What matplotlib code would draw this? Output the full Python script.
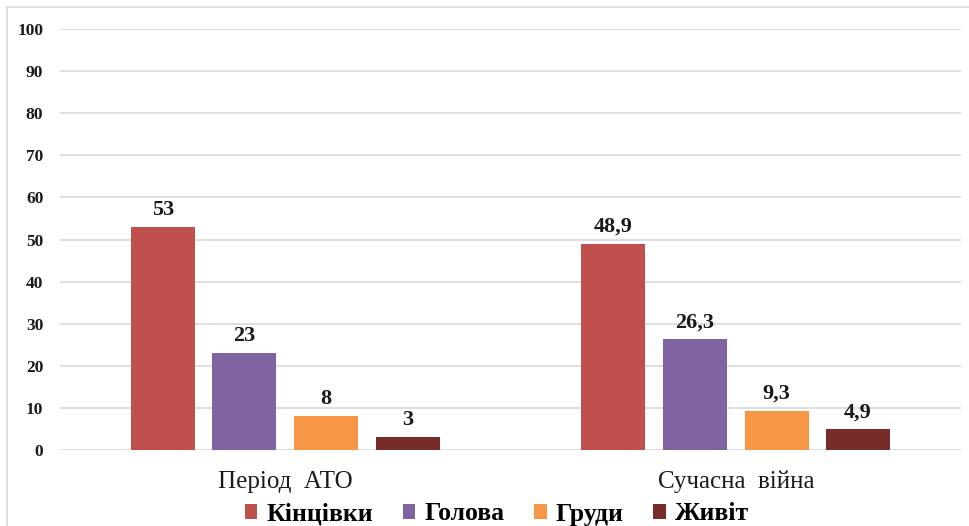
import matplotlib
matplotlib.use('Agg')
import matplotlib.pyplot as plt
import numpy as np
from matplotlib.patches import Rectangle

categories = ['Період  АТО', 'Сучасна  війна']
series = ['Кінцівки', 'Голова', 'Груди', 'Живіт']
values = [
    [53, 48.9],
    [23, 26.3],
    [8, 9.3],
    [3, 4.9],
]
labels = [
    ['53', '48,9'],
    ['23', '26,3'],
    ['8', '9,3'],
    ['3', '4,9'],
]
colors = ['#C0504D', '#8064A2', '#F79646', '#772C2A']

plt.rcParams['font.family'] = ['Liberation Serif', 'DejaVu Serif']

fig = plt.figure(figsize=(9.69, 5.26), dpi=100)
ax = fig.add_axes([60 / 969, 76 / 526, 901 / 969, 421 / 526])

# outer frame: only left and top edges are inside the picture
fig.patches.append(Rectangle((7 / 969, -0.05), 1.0, 0.05 + 519 / 526,
                             transform=fig.transFigure, fill=False,
                             edgecolor='#D9D9D9', linewidth=1.2))

x = np.arange(len(categories))
width = 0.142
step = 0.181
for i, (name, vals) in enumerate(zip(series, values)):
    pos = x + (i - 1.5) * step
    ax.bar(pos, vals, width, color=colors[i], label=name, zorder=3)
    for p, v, t in zip(pos, vals, labels[i]):
        ax.text(p, v + 1.7, t, ha='center', va='bottom', fontsize=16, fontweight='bold', color='#1a1a1a')

ax.set_xlim(-0.5, 1.5)
ax.set_ylim(0, 100)
ax.set_yticks(range(0, 101, 10))
ax.set_xticks(x)
ax.set_xticklabels(categories, fontsize=18)
for t in ax.get_yticklabels():
    t.set_fontweight('bold')
    t.set_fontsize(12.5)
ax.tick_params(axis='y', length=0, pad=12, colors='#1a1a1a')
ax.tick_params(axis='x', length=0, pad=15, colors='#1a1a1a')
ax.grid(axis='y', color='#D9D9D9', linewidth=1.2, zorder=0)
for s in ax.spines.values():
    s.set_visible(False)

fig.legend(loc='center', bbox_to_anchor=(497 / 969, 12 / 526), ncol=4, frameon=False,
           prop={'size': 18.5, 'weight': 'bold'}, handlelength=0.5, handleheight=0.5,
           handletextpad=0.35, columnspacing=1.15)

fig.savefig('out.png', dpi=100)
